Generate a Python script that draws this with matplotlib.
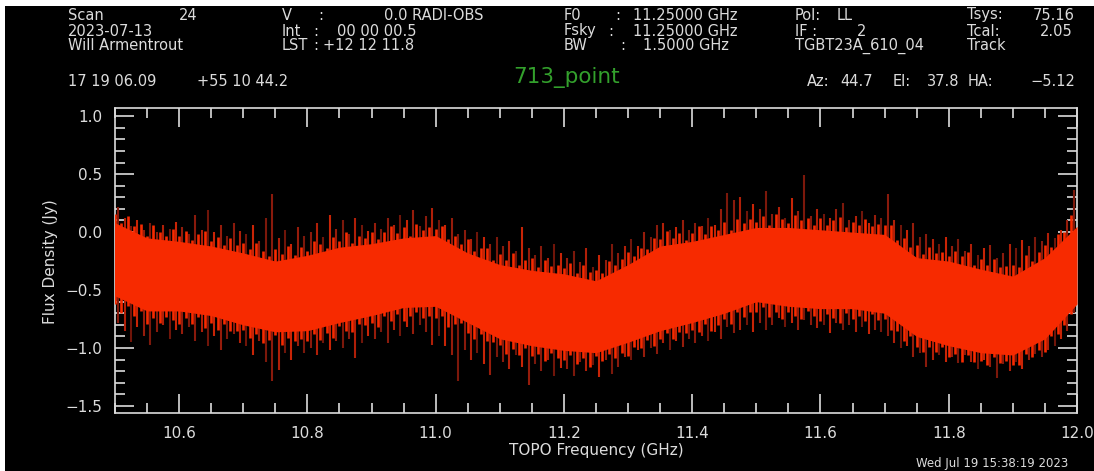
import numpy as np
import matplotlib
matplotlib.use("Agg")
import matplotlib.pyplot as plt
from matplotlib.patches import Rectangle

# ---- data ----
# core (dense) part of the spectrum, every 0.05 GHz
core_freq = [10.50, 10.55, 10.60, 10.65, 10.70, 10.75, 10.80, 10.85, 10.90, 10.95,
             11.00, 11.05, 11.10, 11.15, 11.20, 11.25, 11.30, 11.35, 11.40, 11.45,
             11.50, 11.55, 11.60, 11.65, 11.70, 11.75, 11.80, 11.85, 11.90, 11.95, 12.00]
core_hi = [0.08, -0.05, -0.08, -0.12, -0.18, -0.25, -0.20, -0.13, -0.10, -0.05,
           -0.03, -0.18, -0.28, -0.33, -0.36, -0.42, -0.28, -0.12, -0.08, -0.02,
           0.04, 0.04, 0.02, 0.00, -0.02, -0.22, -0.25, -0.32, -0.38, -0.22, 0.05]
core_lo = [-0.55, -0.68, -0.68, -0.72, -0.80, -0.86, -0.85, -0.78, -0.72, -0.65,
           -0.64, -0.78, -0.92, -0.98, -1.02, -1.04, -0.95, -0.85, -0.78, -0.70,
           -0.60, -0.64, -0.66, -0.66, -0.70, -0.90, -0.98, -1.04, -1.06, -0.92, -0.62]

# ragged edge of the dense band, 150 channels (10.50 .. 11.99 GHz)
teeth_hi = [0.16, 0.08, 0.14, 0.05, 0.07, -0.03, 0.06, 0.00, -0.03, 0.03,
            -0.03, 0.01, -0.07, -0.02, 0.01, -0.08, -0.04, -0.11, -0.05, -0.11,
            -0.09, -0.15, -0.09, -0.16, -0.21, -0.15, -0.19, -0.12, -0.20, -0.13,
            -0.16, -0.08, -0.10, -0.14, -0.04, -0.08, 0.00, -0.09, -0.03, -0.05,
            0.00, -0.06, 0.00, 0.05, -0.01, 0.04, -0.03, 0.07, 0.02, 0.04,
            0.03, 0.05, -0.06, -0.03, -0.10, -0.06, -0.16, -0.14, -0.14, -0.24,
            -0.19, -0.24, -0.18, -0.28, -0.24, -0.22, -0.30, -0.24, -0.29, -0.28,
            -0.31, -0.27, -0.35, -0.28, -0.34, -0.33, -0.35, -0.25, -0.28, -0.23,
            -0.17, -0.21, -0.14, -0.15, -0.05, -0.06, 0.01, -0.05, -0.01, -0.07,
            -0.01, 0.05, -0.02, 0.05, 0.02, 0.09, 0.02, 0.11, 0.08, 0.11,
            0.09, 0.14, 0.06, 0.16, 0.11, 0.08, 0.15, 0.10, 0.12, 0.06,
            0.12, 0.06, 0.10, 0.13, 0.04, 0.09, 0.06, 0.11, 0.05, 0.07,
            0.06, 0.06, -0.07, -0.05, -0.13, -0.11, -0.19, -0.13, -0.18, -0.17,
            -0.21, -0.16, -0.21, -0.17, -0.28, -0.23, -0.28, -0.23, -0.30, -0.29,
            -0.28, -0.30, -0.20, -0.25, -0.17, -0.11, -0.13, -0.02, 0.00, 0.15]
teeth_lo = [-0.62, -0.70, -0.64, -0.72, -0.68, -0.79, -0.74, -0.78, -0.73, -0.76,
            -0.79, -0.74, -0.79, -0.73, -0.83, -0.78, -0.84, -0.79, -0.85, -0.85,
            -0.84, -0.91, -0.88, -0.96, -0.93, -0.89, -0.97, -0.91, -0.94, -0.92,
            -0.94, -0.88, -0.93, -0.87, -0.91, -0.81, -0.85, -0.86, -0.79, -0.80,
            -0.78, -0.82, -0.72, -0.77, -0.71, -0.77, -0.72, -0.69, -0.74, -0.72,
            -0.74, -0.72, -0.82, -0.79, -0.78, -0.87, -0.92, -0.88, -0.94, -0.95,
            -0.97, -1.05, -1.01, -1.06, -1.00, -1.07, -1.05, -1.11, -1.04, -1.09,
            -1.10, -1.06, -1.14, -1.09, -1.16, -1.07, -1.11, -1.05, -1.09, -1.04,
            -1.07, -0.99, -1.00, -0.93, -0.98, -0.92, -0.87, -0.92, -0.86, -0.87,
            -0.84, -0.86, -0.79, -0.85, -0.80, -0.75, -0.79, -0.69, -0.73, -0.69,
            -0.69, -0.65, -0.73, -0.69, -0.75, -0.69, -0.72, -0.75, -0.68, -0.72,
            -0.77, -0.71, -0.74, -0.78, -0.70, -0.75, -0.72, -0.77, -0.71, -0.76,
            -0.75, -0.84, -0.85, -0.94, -0.90, -0.99, -1.03, -0.99, -1.03, -0.99,
            -1.08, -1.05, -1.12, -1.06, -1.12, -1.11, -1.15, -1.08, -1.13, -1.11,
            -1.15, -1.15, -1.05, -1.08, -1.02, -1.03, -0.90, -0.88, -0.80, -0.71]
teeth_freq = np.linspace(10.50, 11.99, len(teeth_hi))

# isolated noise spikes (upper / lower tips), 150 channels across the band
spike_hi = [0.22, 0.12, 0.05, 0.10, 0.02, 0.08, 0.00, 0.06, 0.03, 0.09,
            0.04, -0.02, 0.15, 0.02, 0.19, 0.00, 0.06, -0.03, 0.08, 0.01,
            -0.02, 0.06, -0.08, 0.12, 0.33, -0.05, 0.02, -0.10, 0.04, -0.03,
            0.00, 0.08, -0.04, 0.15, 0.03, 0.10, -0.02, 0.12, 0.06, 0.01,
            0.08, 0.03, 0.12, 0.06, 0.15, 0.10, 0.19, 0.05, 0.14, 0.21,
            0.10, 0.06, 0.12, -0.02, 0.02, -0.06, 0.00, -0.04, -0.10, -0.04,
            -0.12, -0.08, -0.16, 0.04, -0.14, -0.20, -0.12, -0.22, -0.10, -0.18,
            -0.22, -0.16, -0.26, -0.14, -0.30, -0.20, -0.24, -0.10, -0.18, -0.12,
            -0.06, -0.12, 0.00, -0.04, 0.06, 0.08, 0.02, 0.04, 0.10, 0.02,
            0.08, 0.05, 0.12, 0.06, 0.20, 0.34, 0.28, 0.30, 0.18, 0.24,
            0.20, 0.35, 0.16, 0.22, 0.12, 0.29, 0.18, 0.49, 0.14, 0.20,
            0.16, 0.12, 0.20, 0.25, 0.10, 0.14, 0.18, 0.08, 0.15, 0.12,
            0.33, 0.10, 0.06, 0.02, 0.08, -0.04, -0.02, -0.06, -0.10, -0.04,
            -0.12, -0.06, -0.16, -0.10, -0.20, -0.14, -0.11, -0.22, -0.18, -0.10,
            -0.14, -0.07, -0.12, -0.04, -0.08, -0.01, -0.05, 0.02, 0.10, 0.36]
spike_lo = [-0.78, -0.85, -0.95, -0.82, -0.90, -0.97, -0.86, -0.80, -0.92, -0.84,
            -0.88, -0.82, -0.94, -0.86, -0.98, -0.90, -1.02, -0.92, -0.88, -0.96,
            -0.98, -1.06, -0.94, -1.12, -1.28, -1.19, -1.04, -1.10, -0.98, -1.04,
            -1.00, -1.06, -0.96, -1.02, -0.94, -1.00, -0.92, -1.09, -0.96, -0.90,
            -0.92, -0.86, -0.96, -0.84, -0.90, -0.82, -0.88, -0.80, -0.86, -0.97,
            -0.90, -0.98, -1.06, -1.28, -1.02, -1.10, -1.04, -1.14, -1.23, -1.08,
            -1.12, -1.18, -1.06, -1.16, -1.32, -1.14, -1.20, -1.10, -1.24, -1.17,
            -1.18, -1.24, -1.12, -1.20, -1.15, -1.25, -1.10, -1.22, -1.16, -1.08,
            -1.10, -1.02, -1.08, -1.00, -1.05, -0.96, -1.02, -0.94, -0.99, -0.92,
            -0.96, -0.90, -0.94, -0.86, -0.92, -0.82, -0.87, -0.84, -0.80, -0.86,
            -0.78, -0.84, -0.80, -0.74, -0.82, -0.78, -0.84, -0.76, -0.80, -0.83,
            -0.80, -0.87, -0.78, -0.84, -0.80, -0.86, -0.82, -0.88, -0.84, -0.86,
            -0.90, -0.96, -1.00, -0.98, -1.08, -1.04, -1.16, -1.10, -1.06, -1.12,
            -1.08, -1.13, -1.06, -1.12, -1.18, -1.10, -1.16, -1.26, -1.14, -1.20,
            -1.12, -1.18, -1.10, -1.05, -1.08, -1.02, -0.98, -0.92, -0.85, -0.70]
spike_freq = np.linspace(10.505, 11.995, len(spike_hi))

xticks = [10.6, 10.8, 11.0, 11.2, 11.4, 11.6, 11.8, 12.0]
yticks = [-1.5, -1.0, -0.5, 0.0, 0.5, 1.0]

W, H = 1094, 471
FG = "#dcdcdc"
RED = "#f72a00"

fig = plt.figure(figsize=(W / 100, H / 100), dpi=100, facecolor="white")
fig.patches.append(Rectangle((5 / W, 0), 1, 1 - 6 / H, transform=fig.transFigure,
                             facecolor="black", edgecolor="none", zorder=-10))


def txt(px, py, s, ha="left", **kw):
    kw.setdefault("fontsize", 10.5)
    kw.setdefault("color", FG)
    fig.text(px / W, 1 - py / H, s, ha=ha, va="center", **kw)


# header block
txt(68, 15, "Scan")
txt(197, 15, "24", ha="right")
txt(68, 31, "2023-07-13")
txt(68, 46, "Will Armentrout")
txt(68, 81, "17 19 06.09")
txt(197, 81, "+55 10 44.2")

txt(282, 15, "V")
txt(318, 15, ":")
txt(384, 15, "0.0 RADI-OBS")
txt(282, 31, "Int")
txt(313, 31, ":")
txt(337, 31, "00 00 00.5")
txt(282, 46, "LST")
txt(313, 46, ":")
txt(323, 46, "+12 12 11.8")

txt(564, 15, "F0")
txt(615, 15, ":")
txt(633, 15, "11.25000 GHz")
txt(564, 31, "Fsky")
txt(608, 31, ":")
txt(633, 31, "11.25000 GHz")
txt(564, 46, "BW")
txt(620, 46, ":")
txt(643, 46, "1.5000 GHz")

txt(795, 15, "Pol:")
txt(837, 15, "LL")
txt(795, 31, "IF :")
txt(857, 31, "2")
txt(795, 46, "TGBT23A_610_04")

txt(967, 15, "Tsys:")
txt(1075, 15, "75.16", ha="right")
txt(967, 31, "Tcal:")
txt(1073, 31, "2.05", ha="right")
txt(967, 46, "Track")

txt(807, 81, "Az:")
txt(840, 81, "44.7")
txt(893, 81, "El:")
txt(927, 81, "37.8")
txt(968, 81, "HA:")
txt(1075, 81, "\u22125.12", ha="right")

txt(567, 78, "713_point", ha="center", fontsize=15.5, color="#33a02c")

txt(50, 262, "Flux Density (Jy)", ha="center", rotation=90, fontsize=11)
txt(596, 450, "TOPO Frequency (GHz)", ha="center", fontsize=11)
txt(1068, 464, "Wed Jul 19 15:38:19 2023", ha="right", fontsize=8.5)

# plot area
ax = fig.add_axes([115 / W, 1 - 413 / H, 962 / W, 305 / H])
ax.set_facecolor("black")
ax.set_xlim(10.5, 12.0)
ax.set_ylim(-1.56, 1.07)

# dark thin spikes behind, bright dense band on top
spike_cols = ["#8a1a0c", "#b01f08", "#701509", "#c82406", "#961c0b", "#7c180b"]
ax.vlines(spike_freq, spike_lo, spike_hi,
          colors=[spike_cols[i % len(spike_cols)] for i in range(len(spike_hi))],
          linewidth=1.5, zorder=2)
ax.fill_between(core_freq, core_lo, core_hi, color=RED, linewidth=0, zorder=3)
ax.vlines(teeth_freq, teeth_lo, teeth_hi, colors=RED, linewidth=1.9, zorder=3)

ax.set_xticks(xticks)
ax.set_xticklabels([f"{v:.1f}" for v in xticks])
ax.set_yticks(yticks)
ax.set_yticklabels([f"{v:.1f}".replace("-", "\u2212") for v in yticks])
ax.set_xticks(np.arange(10.5, 12.001, 0.05), minor=True)
ax.set_yticks(np.arange(-1.5, 1.001, 0.1), minor=True)
ax.tick_params(which="both", direction="in", top=True, right=True, colors=FG,
               labelsize=11, width=1.2)
ax.tick_params(which="major", length=14, pad=9)
ax.tick_params(which="minor", length=7)
for sp in ax.spines.values():
    sp.set_color(FG)
    sp.set_linewidth(1.2)

fig.savefig("out.png", dpi=100, facecolor=fig.get_facecolor())
